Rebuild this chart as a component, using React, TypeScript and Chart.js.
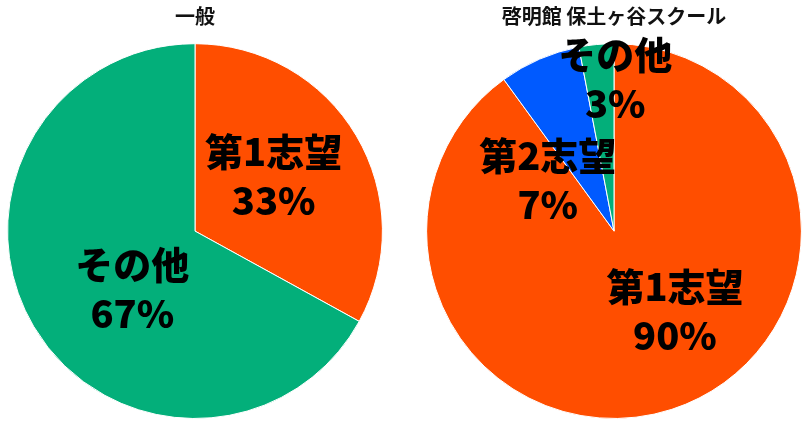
import React, { useEffect, useRef } from "react";
import { Chart, registerables } from "chart.js";

Chart.register(...registerables);

const leftTitle = "一般";
const leftLabels = ["第1志望", "その他"];
const leftValues = [33, 67];

const rightTitle = "啓明館 保土ヶ谷スクール";
const rightLabels = ["第1志望", "第2志望", "その他"];
const rightValues = [90, 7, 3];

const ORANGE = "#FF4E00";
const GREEN = "#03AF7A";
const BLUE = "#005AFF";

const leftColors = [ORANGE, GREEN];
const rightColors = [ORANGE, BLUE, GREEN];

// label block offsets (px) relative to the arc's mid-radius anchor
const leftOffsets = [[-2, -8], [18, 10]];
const rightOffsets = [[32, -10], [-29, 34], [10, -59]];

const labelPlugin = {
  id: "sliceLabels",
  afterDatasetsDraw(chart: any, _args: any, opts: any) {
    const ctx = chart.ctx;
    const meta = chart.getDatasetMeta(0);
    const data = chart.data.datasets[0].data;
    const labels = chart.data.labels;
    const offsets = opts.offsets || [];
    ctx.save();
    ctx.fillStyle = "#000";
    ctx.textAlign = "center";
    ctx.textBaseline = "middle";
    ctx.font = "900 38px 'Noto Sans CJK JP'";
    meta.data.forEach((arc: any, i: number) => {
      const p = arc.getProps(["x", "y", "startAngle", "endAngle", "outerRadius"], true);
      const mid = (p.startAngle + p.endAngle) / 2;
      const r = p.outerRadius / 2;
      const off = offsets[i] || [0, 0];
      const cx = p.x + Math.cos(mid) * r + off[0];
      const cy = p.y + Math.sin(mid) * r + off[1];
      ctx.fillText(String(labels[i]), cx, cy - 24);
      ctx.fillText(data[i] + "%", cx, cy + 25);
    });
    ctx.restore();
  },
};

function makeConfig(title: string, labels: string[], values: number[], colors: string[], offsets: number[][], padRight: number): any {
  return {
    type: "pie",
    data: {
      labels,
      datasets: [
        {
          data: values,
          backgroundColor: colors,
          borderColor: "#ffffff",
          borderWidth: 1,
        },
      ],
    },
    options: {
      responsive: false,
      animation: false,
      layout: { padding: { bottom: 5, right: padRight } },
      plugins: {
        legend: { display: false },
        tooltip: { enabled: false },
        title: {
          display: true,
          text: title,
          color: "#111",
          font: { size: 20, weight: "bold", family: "'Noto Sans CJK JP'", lineHeight: 1.2 },
          padding: { top: 4.5, bottom: 14.7 },
        },
        sliceLabels: { offsets },
      },
    },
    plugins: [labelPlugin],
  };
}

export default function App() {
  const leftRef = useRef<HTMLCanvasElement>(null);
  const rightRef = useRef<HTMLCanvasElement>(null);

  useEffect(() => {
    const a = new Chart(leftRef.current!, makeConfig(leftTitle, leftLabels, leftValues, leftColors, leftOffsets, 10));
    const b = new Chart(rightRef.current!, makeConfig(rightTitle, rightLabels, rightValues, rightColors, rightOffsets, 6));
    return () => {
      a.destroy();
      b.destroy();
    };
  }, []);

  return (
    <div style={{ position: "absolute", left: 0, top: 0, width: 811, height: 424, background: "#fff", overflow: "hidden" }}>
      <canvas ref={leftRef} width={400} height={424} style={{ position: "absolute", left: 0, top: 0 }} />
      <canvas ref={rightRef} width={396} height={424} style={{ position: "absolute", left: 419, top: 0 }} />
    </div>
  );
}
